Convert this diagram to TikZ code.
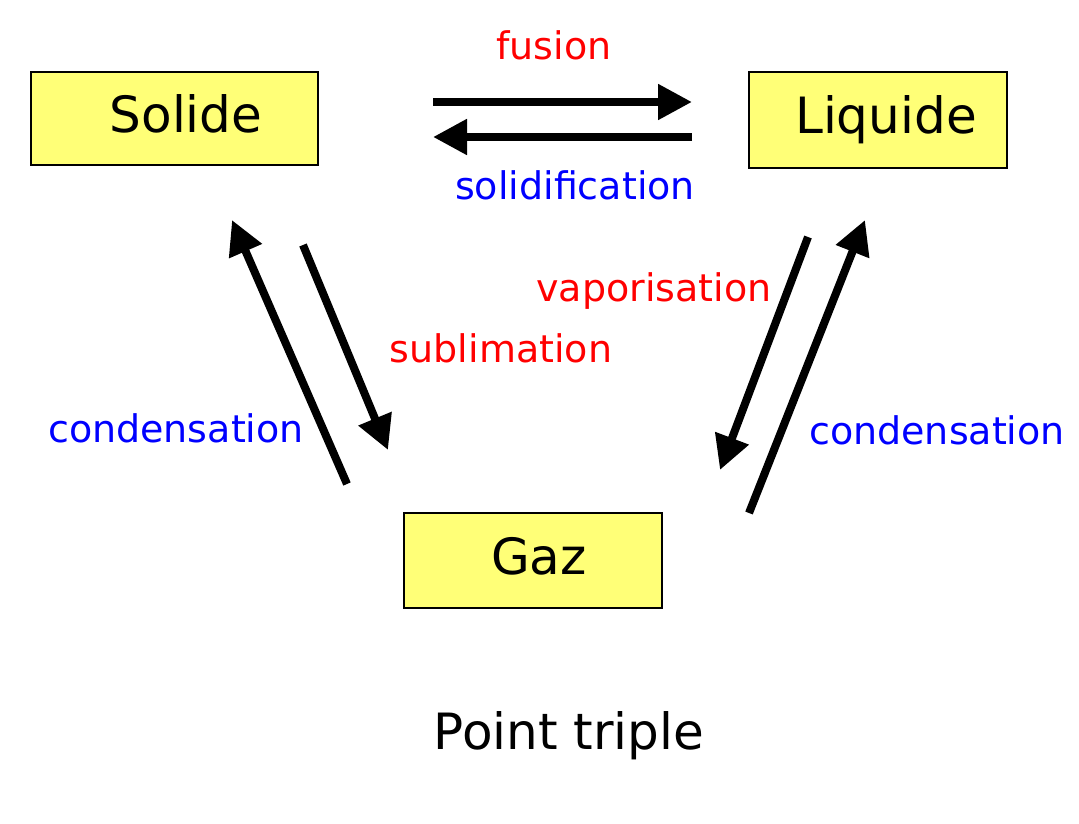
\documentclass[tikz,border=0pt]{standalone}
\usepackage{fontspec}
\setmainfont{DejaVu Sans}
\usetikzlibrary{arrows.meta}
\definecolor{boxyellow}{HTML}{FFFF77}

\begin{document}
\begin{tikzpicture}[%
    x=1pt, y=-1pt,                          % one unit is one pixel of the sketch
    >={Triangle[length=34pt,width=34pt]},   % big solid heads
    ]
% -------------------------------------------------
% Styles for the states, the transitions and their labels
\tikzset{
  state/.style={draw, line width=1.5pt, fill=boxyellow, minimum width=258pt,
    minimum height=95pt, font=\fontsize{50}{60}\selectfont,
    text height=37pt, text depth=10pt},
  pad/.style={execute at begin node={\hspace*{#1}}}, % text sits a bit right
  trans/.style={->, line width=8pt, black},
  lbl/.style={anchor=base, inner sep=0pt, font=\fontsize{38}{46}\selectfont},
  hot/.style={lbl, red},
  cold/.style={lbl, blue}
}
\useasboundingbox (0,0) rectangle (1079,824);
% -------------------------------------------------
% The three states
\node [state, pad=23pt, minimum width=287pt, minimum height=93pt] (solide) at (174.5,118.5) {Solide};
\node [state, pad=16pt, minimum height=96pt] (liquide) at (878,120) {Liquide};
\node [state, pad=12pt] (gaz) at (533,560.5) {Gaz};

% Free ends of the transition arrows
\coordinate (fus-a) at (433,102);  \coordinate (fus-b) at (692,102);
\coordinate (sol-a) at (692,137);  \coordinate (sol-b) at (433,137);
\coordinate (sub-a) at (303,245);  \coordinate (sub-b) at (388,450);
\coordinate (conl-a) at (347,484); \coordinate (conl-b) at (232,220);
\coordinate (vap-a) at (808,237);  \coordinate (vap-b) at (720,470);
\coordinate (conr-a) at (749,513); \coordinate (conr-b) at (865,220);

\draw[trans] (fus-a) -- (fus-b);
\draw[trans] (sol-a) -- (sol-b);
\draw[trans] (sub-a) -- (sub-b);
\draw[trans] (conl-a) -- (conl-b);
\draw[trans] (vap-a) -- (vap-b);
\draw[trans] (conr-a) -- (conr-b);

% -------------------------------------------------
% Labels
\node [hot] (fusion) at (554,60) {fusion};
\node [cold] (solidification) at (575,199) {solidification};
\node [hot] (vaporisation) at (654,301) {vaporisation};
\node [hot] (sublimation) at (501,362) {sublimation};
\node [cold] (condl) at (176,442) {condensation};
\node [cold] (condr) at (937,444) {condensation};
\node [lbl, font=\fontsize{50}{60}\selectfont] (titre) at (569,749) {Point triple};
% -------------------------------------------------
\end{tikzpicture}
\end{document}
